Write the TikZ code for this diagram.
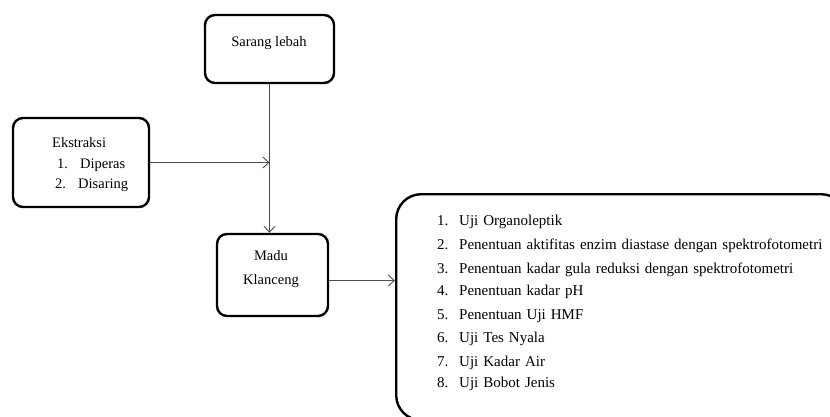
\documentclass[tikz,border=0pt]{standalone}
\usepackage{fontspec}
\setmainfont{Liberation Serif}
\usetikzlibrary{arrows.meta}
\newcommand\mylistfont{\fontsize{15}{17}\selectfont\spaceskip=5pt plus 1pt\relax}
\tikzset{
  boxx/.style={draw=black, line width=2.4pt, rounded corners=10pt},
  bigbox/.style={draw=black, line width=2.4pt, rounded corners=25pt},
  conn/.style={draw=black!70, line width=0.9pt, -{Straight Barb[length=6pt,width=11pt]}},
  txt/.style={inner sep=0pt, font=\fontsize{14.5}{16}\selectfont},
  ltxt/.style={inner sep=0pt, font=\mylistfont},
}
\begin{document}
\begin{tikzpicture}[x=1pt,y=-1pt]
\useasboundingbox (0,0) rectangle (830,417);
\clip (0,0) rectangle (830,417);
% boxes
\node[boxx, minimum width=129pt, minimum height=68pt] (sarang) at (269.5,49) {};
\node[boxx, minimum width=136pt, minimum height=89pt] (ekstraksi) at (81,162.5) {};
\node[boxx, minimum width=111pt, minimum height=82pt] (madu) at (272.5,275) {};
\node[bigbox, minimum width=450pt, minimum height=226pt, anchor=north west] (uji) at (395,193) {};
% texts
\node[txt, anchor=base] (tsarang) at (269,47) {Sarang lebah};
\node[txt, anchor=base] (tmadu1) at (271,260) {Madu};
\node[txt, anchor=base] (tmadu2) at (271,284) {Klanceng};
\node[txt, anchor=base west] (te0) at (52,147) {Ekstraksi};
\node[txt, anchor=base west] (te1n) at (57,168) {1.};
\node[txt, anchor=base west] (te1) at (80,168) {Diperas};
\node[txt, anchor=base west] (te2n) at (55,188) {2.};
\node[txt, anchor=base west] (te2) at (78,188) {Disaring};
% list
\foreach \i/\y/\t in {1/225/{Uji Organoleptik},
  2/249/{Penentuan aktifitas enzim diastase dengan spektrofotometri},
  3/273/{Penentuan kadar gula reduksi dengan spektrofotometri},
  4/295/{Penentuan kadar pH},
  5/319/{Penentuan Uji HMF},
  6/342/{Uji Tes Nyala},
  7/366/{Uji Kadar Air},
  8/387/{Uji Bobot Jenis}}{
  \node[ltxt, anchor=base west] (n\i) at (437,\y) {\i.};
  \node[ltxt, anchor=base west] (l\i) at (459,\y) {\t};
}
% connectors
\coordinate (join) at (sarang.south |- ekstraksi.east);
\draw[conn] (ekstraksi.east) -- (join);
\draw[conn] (sarang.south) -- (sarang.south |- madu.north);
\draw[conn] (madu.east |- tmadu2) -- (uji.west |- tmadu2);
\end{tikzpicture}
\end{document}
